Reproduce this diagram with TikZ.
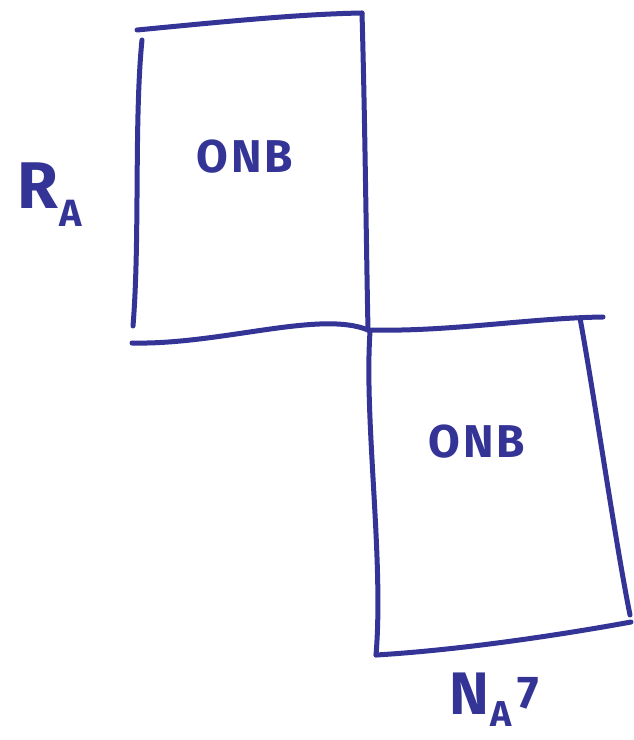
\documentclass[tikz,border=0pt]{standalone}
\usepackage{fontspec}
\setmainfont{Fira Sans}
\definecolor{ink}{RGB}{52,52,150}
\begin{document}
\begin{tikzpicture}[x=1pt,y=-1pt,
  pen/.style={draw=ink,line width=5pt,line cap=round,line join=round},
  handtext/.style={text=ink,font=\fontsize{46}{50}\selectfont\bfseries}]
\useasboundingbox (0,0) rectangle (633,740);
% top box corners
\coordinate (tA) at (137,30);
\coordinate (tB) at (362,13);
\coordinate (tC) at (368,330);
\coordinate (tD) at (132,343);
\coordinate (tL1) at (142,40);
\coordinate (tL2) at (133,326);
% bottom box corners
\coordinate (bA) at (370,332);
\coordinate (bB) at (603,317);
\coordinate (bR1) at (580,318);
\coordinate (bR2) at (630,615);
\coordinate (bL) at (376,655);
\coordinate (bD) at (631,622);
% top box
\draw[pen] (tA) .. controls (220,22) and (300,14) .. (tB);
\draw[pen] (tL1) .. controls (134,120) and (140,240) .. (tL2);
\draw[pen] (tB) .. controls (365,120) and (366,230) .. (tC);
\draw[pen] (tD) .. controls (220,345) and (320,310) .. (tC);
% bottom box
\draw[pen] (tC) .. controls (450,332) and (530,318) .. (bB);
\draw[pen] (bA) .. controls (364,420) and (384,560) .. (bL);
\draw[pen] (bR1) .. controls (595,400) and (615,540) .. (bR2);
\draw[pen] (bL) .. controls (460,650) and (560,635) .. (bD);
% labels
\node[handtext] (onb1) at (245,157) {O\kern3pt N\kern3pt B};
\node[handtext] (onb2) at (477,442) {O\kern3pt N\kern3pt B};
\node[handtext,font=\fontsize{66}{70}\selectfont\bfseries] (ra) at (50,195) {R\kern1pt\raisebox{-18pt}{\fontsize{38}{42}\selectfont A}};
\node[handtext,font=\fontsize{60}{64}\selectfont\bfseries] (na) at (494,700) {N\kern1pt\raisebox{-12pt}{\fontsize{36}{40}\selectfont A}\kern6pt\raisebox{6pt}{\fontsize{46}{50}\selectfont 7}};
\end{tikzpicture}
\end{document}
